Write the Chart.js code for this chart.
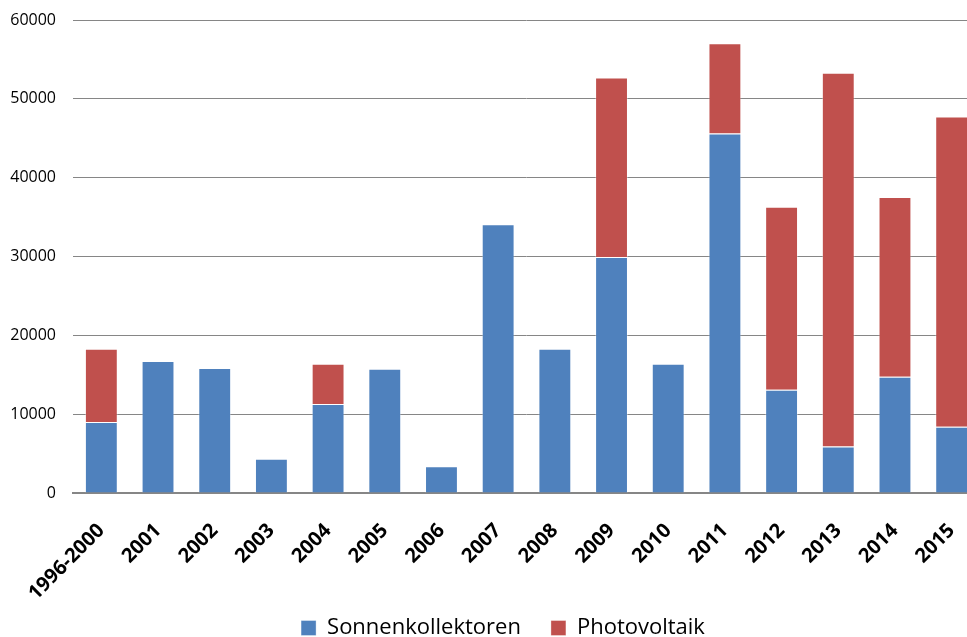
<!DOCTYPE html>
<html>
<head>
<meta charset="utf-8">
<script src="https://cdn.jsdelivr.net/npm/chart.js@4.4.1/dist/chart.umd.min.js"></script>
<style>
  html, body { margin: 0; padding: 0; background: #fff; overflow: hidden; }
  #wrap { width: 1006px; height: 637px; }
</style>
</head>
<body>
<div id="wrap"><canvas id="myChart"></canvas></div>
<script>
// categories and values
const years = ["1996-2000", "2001", "2002", "2003", "2004", "2005", "2006", "2007",
  "2008", "2009", "2010", "2011", "2012", "2013", "2014", "2015"];
const sonnenkollektoren = [9000, 16750, 15850, 4350, 11300, 15750, 3400, 34100,
  18300, 29950, 16400, 45600, 13100, 5900, 14750, 8400];
const photovoltaik = [9300, 0, 0, 0, 5100, 0, 0, 0,
  0, 22750, 0, 11450, 23200, 47400, 22800, 39350];
const yTicks = [0, 10000, 20000, 30000, 40000, 50000, 60000];

const fontName = "'Open Sans', sans-serif";

// legend sits low, close to the bottom edge: reserve less room and push it down
const legendPlace = {
  id: "legendPlace",
  beforeInit(chart) {
    const origFit = chart.legend.fit;
    chart.legend.fit = function () {
      origFit.call(this);
      this.height = 33;
    };
  },
  afterLayout(chart) {
    chart.legend.top = chart.height - 50;
    chart.legend.bottom = chart.height;
  }
};

new Chart(document.getElementById("myChart"), {
  type: "bar",
  data: {
    labels: years,
    datasets: [
      {
        label: "Sonnenkollektoren",
        data: sonnenkollektoren,
        backgroundColor: "#4F81BD",
        borderColor: "rgba(255,255,255,0.35)",
        borderWidth: 1,
        barPercentage: 0.58,
        categoryPercentage: 1
      },
      {
        label: "Photovoltaik",
        data: photovoltaik,
        backgroundColor: "#C0504D",
        borderColor: "rgba(255,255,255,0.35)",
        borderWidth: 1,
        barPercentage: 0.58,
        categoryPercentage: 1
      }
    ]
  },
  plugins: [legendPlace],
  options: {
    responsive: true,
    maintainAspectRatio: false,
    animation: false,
    layout: { padding: { top: 20, left: 0, bottom: 0 } },
    scales: {
      x: {
        stacked: true,
        afterFit: (s) => { s.height = 111; },
        grid: { display: false },
        border: { display: true, color: "#868686", width: 2 },
        ticks: {
          minRotation: 45,
          maxRotation: 45,
          autoSkip: false,
          padding: 18,
          color: "#000",
          font: { family: fontName, size: 20, weight: "bold" }
        }
      },
      y: {
        stacked: true,
        min: 0,
        max: 60000,
        afterBuildTicks: (s) => { s.ticks = yTicks.map(v => ({ value: v })); },
        afterFit: (s) => { s.width = 73; },
        grid: { color: "#868686", lineWidth: 1, drawTicks: true, tickLength: 17, tickColor: "transparent" },
        border: { display: false },
        ticks: {
          padding: 0,
          color: "#000",
          font: { family: fontName, size: 16 },
          callback: (v) => String(v)
        }
      },
      // empty right axis: only reserves room so the plot runs past the window edge
      y2: {
        position: "right",
        display: true,
        grid: { display: false },
        border: { display: false },
        ticks: { display: false },
        afterFit: (s) => { s.width = 26; }
      }
    },
    plugins: {
      tooltip: { enabled: false },
      legend: {
        position: "bottom",
        labels: {
          boxWidth: 15,
          boxHeight: 15,
          padding: 30,
          color: "#000",
          font: { family: fontName, size: 22 }
        }
      }
    }
  }
});
</script>
</body>
</html>
